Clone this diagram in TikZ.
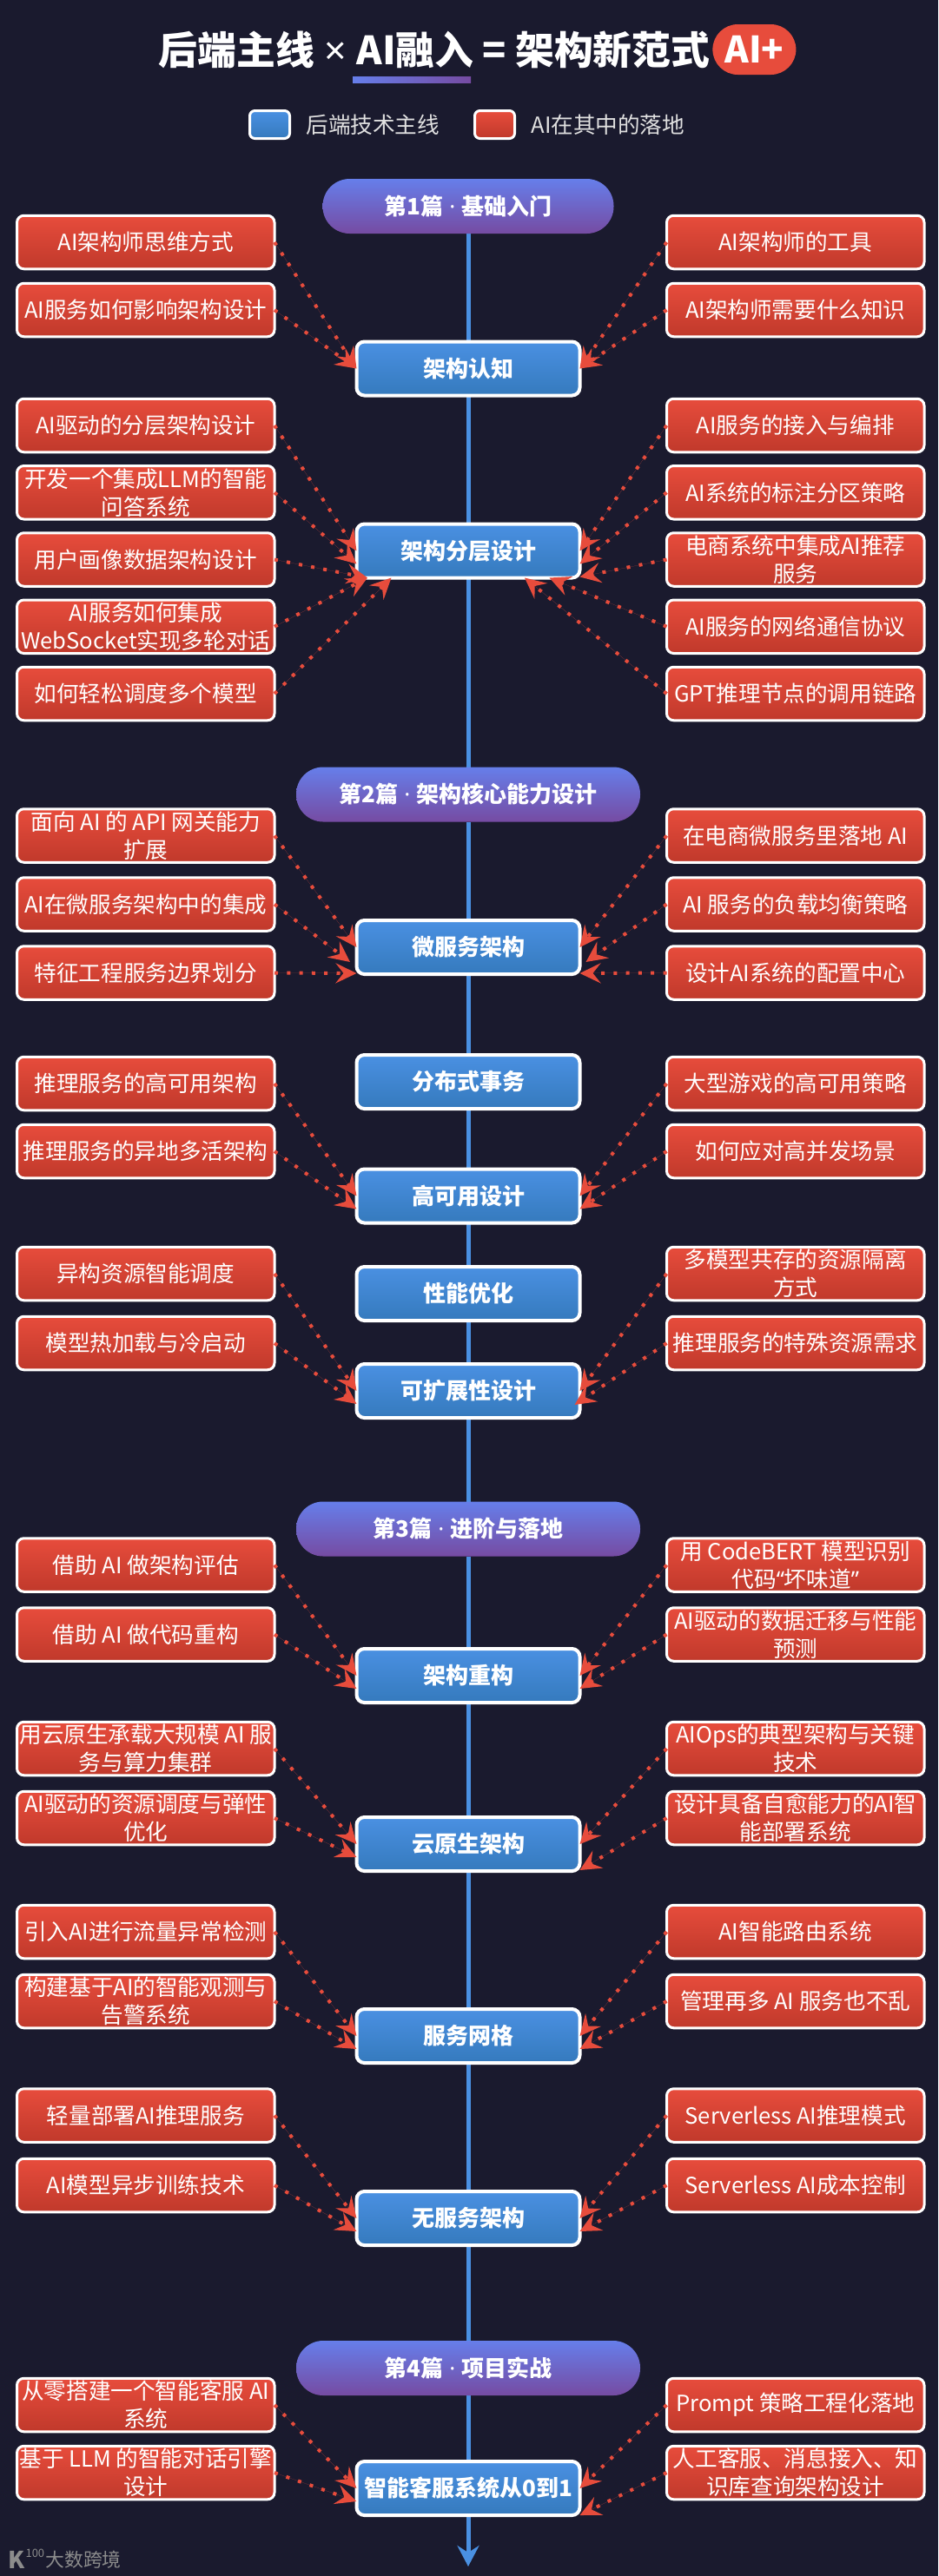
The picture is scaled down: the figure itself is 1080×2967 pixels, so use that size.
\documentclass[tikz,border=0pt]{standalone}
\usepackage{fontspec}
\setmainfont{Noto Sans CJK SC}
\newfontfamily\latinfont{Noto Sans}
\usetikzlibrary{arrows.meta, positioning, backgrounds}
\definecolor{pagebg}{HTML}{1A1A2E}
\definecolor{bluetop}{HTML}{4A90E2}
\definecolor{bluebot}{HTML}{357ABD}
\definecolor{redtop}{HTML}{E74C3C}
\definecolor{redbot}{HTML}{C0392B}
\definecolor{parttop}{HTML}{667EEA}
\definecolor{partbot}{HTML}{764BA2}
\newcommand{\partdot}{{\latinfont\ ·\ }}

\begin{document}
\begin{tikzpicture}[
        x=1pt, y=-1pt,
        every node/.style={inner sep=0pt, outer sep=0pt, text=white},
        hub/.style={rectangle, draw=white, line width=4pt, rounded corners=9pt, minimum width=257pt, minimum height=62pt, top color=bluetop, bottom color=bluebot, align=center, font=\fontsize{26}{32}\selectfont\bfseries},
        aibox/.style={rectangle, draw=white, line width=3pt, rounded corners=8pt, minimum width=296.5pt, minimum height=61.5pt, top color=redtop, bottom color=redbot, align=center, font=\fontsize{25.6}{32}\selectfont},
        part/.style={rectangle, rounded corners=31pt, minimum height=63pt, top color=parttop, bottom color=partbot, font=\fontsize{26}{32}\selectfont\bfseries},
        key/.style={rectangle, draw=white, line width=3pt, rounded corners=6pt, minimum width=46pt, minimum height=32pt},
        keytext/.style={text=white!88!black, font=\fontsize{25.6}{32}\selectfont},
        brand/.style={text=gray!90!white},
        spine/.style={draw=bluetop, line width=5pt},
        aiarrow/.style={draw=redtop, fill=redtop, line width=4pt, dash pattern=on 4pt off 10.3pt, -{Stealth[length=24pt, width=23pt, inset=9pt]}}
    ]
        \begin{scope}[on background layer]
            \fill[pagebg] (0,0) rectangle (1080,2967);
        \end{scope}
        \useasboundingbox (0,0) rectangle (1080,2967);

        % Nodes
        \node[font=\fontsize{44.8}{50}\selectfont\bfseries] (title) at (500,57) {后端主线{\latinfont\ ×\ }AI融入 = 架构新范式};
        \node[rectangle, minimum width=136pt, minimum height=7pt, left color=parttop, right color=partbot, below=9.5pt of title, xshift=-26pt] (underline) {};
        \node[rectangle, rounded corners=29pt, minimum width=96pt, minimum height=58pt, fill=redtop, right=3pt of title, font=\fontsize{42}{50}\selectfont\bfseries] (badge) {AI+};

        \node[key, top color=bluetop, bottom color=bluebot] (keyback) at (310.5,143.5) {};
        \node[keytext, right=19pt of keyback] (keybacktext) {后端技术主线};
        \node[key, top color=redtop, bottom color=redbot] (keyai) at (569.5,143.5) {};
        \node[keytext, right=19pt of keyai] (keyaitext) {AI在其中的落地};

        \node[part, minimum width=335pt] (part1) at (539,237.5) {第1篇\partdot 基础入门};

        \node[hub, below=124.5pt of part1] (cog) {架构认知};
        \node[aibox, left=94.5pt of cog, yshift=145.5pt] (cogl1) {AI架构师思维方式};
        \node[aibox, below=16.5pt of cogl1] (cogl2) {AI服务如何影响架构设计};
        \node[aibox, right=100pt of cog, yshift=145.5pt] (cogr1) {AI架构师的工具};
        \node[aibox, below=16.5pt of cogr1] (cogr2) {AI架构师需要什么知识};

        \node[hub, below=148pt of cog] (layer) {架构分层设计};
        \node[aibox, left=94.5pt of layer, yshift=144.5pt] (layerl1) {AI驱动的分层架构设计};
        \node[aibox, below=15.75pt of layerl1] (layerl2) {开发一个集成LLM的智能\\问答系统};
        \node[aibox, below=15.75pt of layerl2] (layerl3) {用户画像数据架构设计};
        \node[aibox, below=15.75pt of layerl3] (layerl4) {AI服务如何集成\\WebSocket实现多轮对话};
        \node[aibox, below=15.75pt of layerl4] (layerl5) {如何轻松调度多个模型};
        \node[aibox, right=100pt of layer, yshift=144.5pt] (layerr1) {AI服务的接入与编排};
        \node[aibox, below=15.75pt of layerr1] (layerr2) {AI系统的标注分区策略};
        \node[aibox, below=15.75pt of layerr2] (layerr3) {电商系统中集成AI推荐\\服务};
        \node[aibox, below=15.75pt of layerr3] (layerr4) {AI服务的网络通信协议};
        \node[aibox, below=15.75pt of layerr4] (layerr5) {GPT推理节点的调用链路};

        \node[part, minimum width=396pt, below=218pt of layer] (part2) {第2篇\partdot 架构核心能力设计};

        \node[hub, below=113.5pt of part2] (micro) {微服务架构};
        \node[aibox, left=94.5pt of micro, yshift=128.5pt] (microl1) {面向 AI 的 API 网关能力\\扩展};
        \node[aibox, below=17.5pt of microl1] (microl2) {AI在微服务架构中的集成};
        \node[aibox, below=17.5pt of microl2] (microl3) {特征工程服务边界划分};
        \node[aibox, right=100pt of micro, yshift=128.5pt] (micror1) {在电商微服务里落地 AI};
        \node[aibox, below=17.5pt of micror1] (micror2) {AI 服务的负载均衡策略};
        \node[aibox, below=17.5pt of micror2] (micror3) {设计AI系统的配置中心};

        \node[hub, below=93pt of micro] (dist) {分布式事务};

        \node[hub, below=69.5pt of dist] (ha) {高可用设计};
        \node[aibox, left=94.5pt of ha, yshift=129.5pt] (hal1) {推理服务的高可用架构};
        \node[aibox, below=16.5pt of hal1] (hal2) {推理服务的异地多活架构};
        \node[aibox, right=100pt of ha, yshift=129.5pt] (har1) {大型游戏的高可用策略};
        \node[aibox, below=16.5pt of har1] (har2) {如何应对高并发场景};

        \node[hub, below=50.5pt of ha] (perf) {性能优化};

        \node[hub, below=50pt of perf] (scale) {可扩展性设计};
        \node[aibox, left=94.5pt of scale, yshift=135pt] (scalel1) {异构资源智能调度};
        \node[aibox, below=18.5pt of scalel1] (scalel2) {模型热加载与冷启动};
        \node[aibox, right=100pt of scale, yshift=135pt] (scaler1) {多模型共存的资源隔离\\方式};
        \node[aibox, below=18.5pt of scaler1] (scaler2) {推理服务的特殊资源需求};

        \node[part, minimum width=396pt, below=96.5pt of scale] (part3) {第3篇\partdot 进阶与落地};

        \node[hub, below=106.5pt of part3] (refactor) {架构重构};
        \node[aibox, left=94.5pt of refactor, yshift=127.5pt] (refactorl1) {借助 AI 做架构评估};
        \node[aibox, below=18.5pt of refactorl1] (refactorl2) {借助 AI 做代码重构};
        \node[aibox, right=100pt of refactor, yshift=127.5pt] (refactorr1) {用 CodeBERT 模型识别\\代码{\latinfont “}坏味道{\latinfont ”}};
        \node[aibox, below=18.5pt of refactorr1] (refactorr2) {AI驱动的数据迁移与性能\\预测};

        \node[hub, below=132pt of refactor] (cloud) {云原生架构};
        \node[aibox, left=94.5pt of cloud, yshift=110pt] (cloudl1) {用云原生承载大规模 AI 服\\务与算力集群};
        \node[aibox, below=18.5pt of cloudl1] (cloudl2) {AI驱动的资源调度与弹性\\优化};
        \node[aibox, right=100pt of cloud, yshift=110pt] (cloudr1) {AIOps的典型架构与关键\\技术};
        \node[aibox, below=18.5pt of cloudr1] (cloudr2) {设计具备自愈能力的AI智\\能部署系统};

        \node[hub, below=159pt of cloud] (mesh) {服务网格};
        \node[aibox, left=94.5pt of mesh, yshift=120pt] (meshl1) {引入AI进行流量异常检测};
        \node[aibox, below=18.5pt of meshl1] (meshl2) {构建基于AI的智能观测与\\告警系统};
        \node[aibox, right=100pt of mesh, yshift=120pt] (meshr1) {AI智能路由系统};
        \node[aibox, below=18.5pt of meshr1] (meshr2) {管理再多 AI 服务也不乱};

        \node[hub, below=148pt of mesh] (serverless) {无服务架构};
        \node[aibox, left=94.5pt of serverless, yshift=118.5pt] (serverlessl1) {轻量部署AI推理服务};
        \node[aibox, below=19pt of serverlessl1] (serverlessl2) {AI模型异步训练技术};
        \node[aibox, right=100pt of serverless, yshift=118.5pt] (serverlessr1) {Serverless AI推理模式};
        \node[aibox, below=19pt of serverlessr1] (serverlessr2) {Serverless AI成本控制};

        \node[part, minimum width=396pt, below=110pt of serverless] (part4) {第4篇\partdot 项目实战};

        \node[hub, below=76pt of part4] (agent) {智能客服系统从0到1};
        \node[aibox, left=94.5pt of agent, yshift=96pt] (agentl1) {从零搭建一个智能客服 AI\\系统};
        \node[aibox, below=16.5pt of agentl1] (agentl2) {基于 LLM 的智能对话引擎\\设计};
        \node[aibox, right=100pt of agent, yshift=96pt] (agentr1) {Prompt 策略工程化落地};
        \node[aibox, below=16.5pt of agentr1] (agentr2) {人工客服、消息接入、知\\识库查询架构设计};

        \coordinate[below=59pt of agent] (end);

        \node[brand, font=\fontsize{27}{30}\selectfont\bfseries] (brandlogo) at (19,2948) {K};
        \node[brand, font=\fontsize{13}{15}\selectfont, right=1pt of brandlogo, yshift=7pt] (brand100) {100};
        \node[brand, font=\fontsize{21.8}{26}\selectfont] (brandtext) at (96,2948) {大数跨境};

        % Arrows
        \begin{scope}[on background layer]
            \draw[spine] (part1) -- (cog);
            \draw[spine] (cog) -- (layer);
            \draw[spine] (layer) -- (part2);
            \draw[spine] (part2) -- (micro);
            \draw[spine] (micro) -- (dist);
            \draw[spine] (dist) -- (ha);
            \draw[spine] (ha) -- (perf);
            \draw[spine] (perf) -- (scale);
            \draw[spine] (scale) -- (part3);
            \draw[spine] (part3) -- (refactor);
            \draw[spine] (refactor) -- (cloud);
            \draw[spine] (cloud) -- (mesh);
            \draw[spine] (mesh) -- (serverless);
            \draw[spine] (serverless) -- (part4);
            \draw[spine] (part4) -- (agent);
            \draw[spine, -{Stealth[length=24pt, width=25pt, inset=8pt]}] (agent) -- (end);
        \end{scope}

        \draw[aiarrow] (cogl1.east) -- (cog.west);
        \draw[aiarrow] (cogl2.east) -- (cog.west);
        \draw[aiarrow] (cogr1.west) -- (cog.east);
        \draw[aiarrow] (cogr2.west) -- (cog.east);

        \draw[aiarrow] (layerl1.east) -- (layer.west);
        \draw[aiarrow] (layerl2.east) -- ([yshift=-15pt]layer.west);
        \draw[aiarrow] (layerl3.east) -- ([xshift=12.5pt]layer.south west);
        \draw[aiarrow] (layerl4.east) -- ([xshift=12.5pt]layer.south west);
        \draw[aiarrow] (layerl5.east) -- ([xshift=40pt]layer.south west);
        \draw[aiarrow] (layerr1.west) -- (layer.east);
        \draw[aiarrow] (layerr2.west) -- ([yshift=-15pt]layer.east);
        \draw[aiarrow] (layerr3.west) -- ([yshift=-30pt]layer.east);
        \draw[aiarrow] (layerr4.west) -- ([xshift=-35pt]layer.south east);
        \draw[aiarrow] (layerr5.west) -- ([xshift=-63.5pt]layer.south east);

        \draw[aiarrow] (microl1.east) -- (micro.west);
        \draw[aiarrow] (microl2.east) -- ([xshift=-7.5pt, yshift=-17pt]micro.west);
        \draw[aiarrow] (microl3.east) -- ([yshift=-30pt]micro.west);
        \draw[aiarrow] (micror1.west) -- (micro.east);
        \draw[aiarrow] (micror2.west) -- ([xshift=7pt, yshift=-17pt]micro.east);
        \draw[aiarrow] (micror3.west) -- ([yshift=-30pt]micro.east);

        \draw[aiarrow] (hal1.east) -- (ha.west);
        \draw[aiarrow] (hal2.east) -- ([yshift=-15pt]ha.west);
        \draw[aiarrow] (har1.west) -- (ha.east);
        \draw[aiarrow] (har2.west) -- ([yshift=-15pt]ha.east);

        \draw[aiarrow] (scalel1.east) -- (scale.west);
        \draw[aiarrow] (scalel2.east) -- ([yshift=-15pt]scale.west);
        \draw[aiarrow] (scaler1.west) -- (scale.east);
        \draw[aiarrow] (scaler2.west) -- ([xshift=-6pt, yshift=-16pt]scale.east);

        \draw[aiarrow] (refactorl1.east) -- (refactor.west);
        \draw[aiarrow] (refactorl2.east) -- ([yshift=-15pt]refactor.west);
        \draw[aiarrow] (refactorr1.west) -- (refactor.east);
        \draw[aiarrow] (refactorr2.west) -- ([yshift=-15pt]refactor.east);

        \draw[aiarrow] (cloudl1.east) -- (cloud.west);
        \draw[aiarrow] (cloudl2.east) -- ([yshift=-15pt]cloud.west);
        \draw[aiarrow] (cloudr1.west) -- (cloud.east);
        \draw[aiarrow] (cloudr2.west) -- ([yshift=-30pt]cloud.east);

        \draw[aiarrow] (meshl1.east) -- (mesh.west);
        \draw[aiarrow] (meshl2.east) -- ([yshift=-15pt]mesh.west);
        \draw[aiarrow] (meshr1.west) -- (mesh.east);
        \draw[aiarrow] (meshr2.west) -- ([yshift=-15pt]mesh.east);

        \draw[aiarrow] (serverlessl1.east) -- (serverless.west);
        \draw[aiarrow] (serverlessl2.east) -- ([yshift=-15pt]serverless.west);
        \draw[aiarrow] (serverlessr1.west) -- (serverless.east);
        \draw[aiarrow] (serverlessr2.west) -- ([yshift=-15pt]serverless.east);

        \draw[aiarrow] (agentl1.east) -- (agent.west);
        \draw[aiarrow] (agentl2.east) -- ([yshift=-15pt]agent.west);
        \draw[aiarrow] (agentr1.west) -- (agent.east);
        \draw[aiarrow] (agentr2.west) -- ([yshift=-31pt]agent.east);
    \end{tikzpicture}
\end{document}
